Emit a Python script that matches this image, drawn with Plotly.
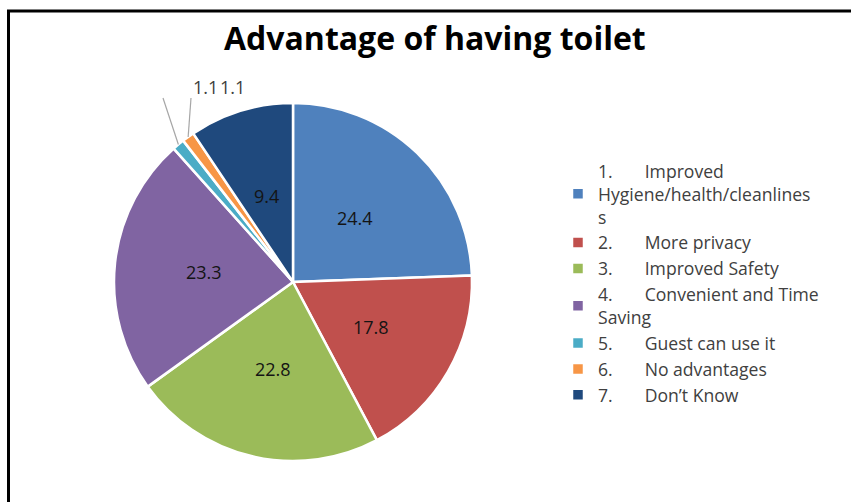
import math
import plotly.graph_objects as go

# Survey shares (%) for the advantages of having a toilet
categories = [
    "1.\u00a0\u00a0\u00a0\u00a0\u00a0\u00a0\u00a0Improved<br>Hygiene/health/cleanlines<br>s",
    "2.\u00a0\u00a0\u00a0\u00a0\u00a0\u00a0\u00a0More privacy",
    "3.\u00a0\u00a0\u00a0\u00a0\u00a0\u00a0\u00a0Improved Safety",
    "4.\u00a0\u00a0\u00a0\u00a0\u00a0\u00a0\u00a0Convenient and Time<br>Saving",
    "5.\u00a0\u00a0\u00a0\u00a0\u00a0\u00a0\u00a0Guest can use it",
    "6.\u00a0\u00a0\u00a0\u00a0\u00a0\u00a0\u00a0No advantages",
    "7.\u00a0\u00a0\u00a0\u00a0\u00a0\u00a0\u00a0Don\u2019t Know",
]
values = [24.4, 17.8, 22.8, 23.3, 1.1, 1.1, 9.4]
colors = ["#4F81BD", "#C0504D", "#9BBB59", "#8064A2", "#4BACC6", "#F79646", "#1F497D"]
title = "Advantage of having toilet"

W, H = 851, 502
FONT = "Open Sans"


def px(x):
    return x / W


def py(y):
    return 1 - y / H


# pie geometry (pixels)
cx, cy, r = 293, 282, 179
small = 2.0  # slices below this share get an outside label with a leader line

fig = go.Figure()
fig.add_trace(go.Pie(
    labels=categories,
    values=values,
    textinfo="none",
    sort=False,
    direction="clockwise",
    rotation=0,
    marker=dict(colors=colors, line=dict(color="white", width=2.5)),
    domain=dict(x=[px(cx - r), px(cx + r)], y=[py(cy + r), py(cy - r)]),
    hoverinfo="label+value",
))

shapes = []
annotations = []
total = sum(values)
cum = 0.0
label_anchor = [(163, 98), (191, 98)]
label_text_x = [205.5, 232.5]
k = 0
for v in values:
    mid = (cum + v / 2) / total * 2 * math.pi
    cum += v
    if v >= small:
        # value label at half radius along the slice bisector
        lx = cx + 0.5 * r * math.sin(mid)
        ly = cy - 0.5 * r * math.cos(mid)
        annotations.append(dict(text=f"{v:.1f}", x=px(lx), y=py(ly),
                                xref="paper", yref="paper", showarrow=False,
                                xanchor="center", yanchor="middle",
                                font=dict(family=FONT, size=18, color="#141414")))
        continue
    # thin slices: label above the pie, leader line to the slice edge
    ex = cx + r * math.sin(mid)
    ey = cy - r * math.cos(mid)
    ax, ay = label_anchor[k]
    shapes.append(dict(type="line", xref="paper", yref="paper",
                       x0=px(ex), y0=py(ey), x1=px(ax), y1=py(ay),
                       line=dict(color="#a6a6a6", width=1.2)))
    annotations.append(dict(text=f"{v:.1f}", x=px(label_text_x[k]), y=py(87),
                            xref="paper", yref="paper", showarrow=False,
                            xanchor="center", yanchor="middle",
                            font=dict(family=FONT, size=18, color="#404040")))
    k += 1

# chart frame
shapes.append(dict(type="rect", xref="paper", yref="paper",
                   x0=px(8.5), y0=py(700), x1=px(1100), y1=py(11),
                   line=dict(color="black", width=3)))

annotations.append(dict(text=f"<b>{title}</b>", x=px(435), y=py(37),
                        xref="paper", yref="paper", showarrow=False,
                        xanchor="center", yanchor="middle",
                        font=dict(family=FONT, size=32, color="black")))

fig.update_layout(
    width=W, height=H,
    margin=dict(l=0, r=0, t=0, b=0),
    paper_bgcolor="white",
    plot_bgcolor="white",
    showlegend=True,
    legend=dict(x=px(558), y=py(153), xanchor="left", yanchor="top",
                font=dict(family=FONT, size=17.6, color="#404040"),
                bgcolor="rgba(0,0,0,0)", traceorder="normal", itemclick=False),
    shapes=shapes,
    annotations=annotations,
)

fig.write_html("out.html")
